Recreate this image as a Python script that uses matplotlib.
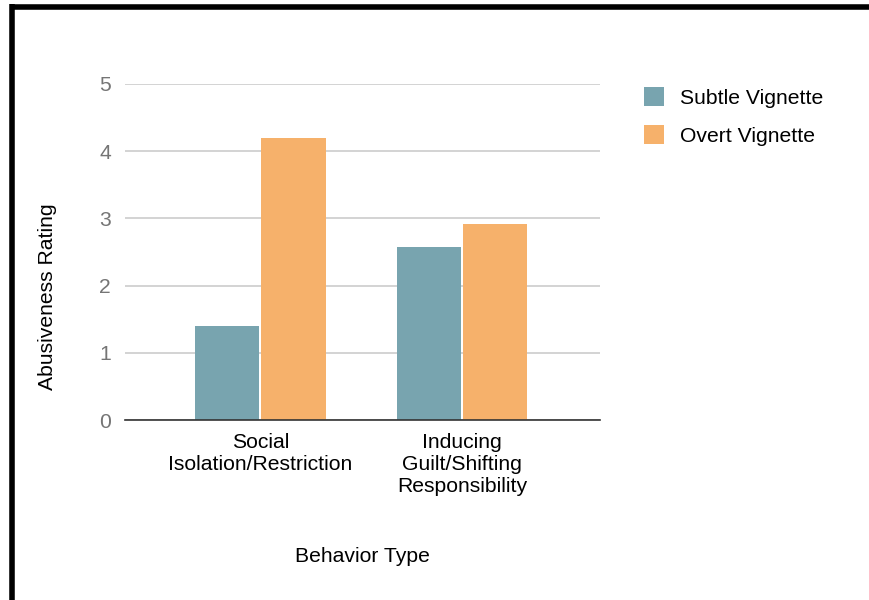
import matplotlib
matplotlib.use('Agg')

import matplotlib.pyplot as plt
import numpy as np
from matplotlib.patches import Patch
from matplotlib.lines import Line2D

plt.rcParams['font.family'] = ['Liberation Sans', 'DejaVu Sans']

# 数据
categories = ['Social\nIsolation/Restriction', 'Inducing\nGuilt/Shifting\nResponsibility']
series_names = ['Subtle Vignette', 'Overt Vignette']
subtle_vals = [1.40, 2.57]
overt_vals = [4.20, 2.92]
y_ticks = [0, 1, 2, 3, 4, 5]

subtle_color = '#78a4af'
overt_color = '#f6b16b'
fs = 15.2

fig = plt.figure(figsize=(8.7, 6), dpi=100)
ax = fig.add_axes([125 / 870, 1 - 420 / 600, 475 / 870, 336 / 600])

x = np.arange(len(categories))
w = 0.318
ax.bar(x - w / 2 - 0.005, subtle_vals, width=w, color=subtle_color, zorder=3)
ax.bar(x + w / 2 + 0.005, overt_vals, width=w, color=overt_color, zorder=3)

ax.set_xlim(-0.672, 1.685)
ax.set_ylim(0, 5)
ax.set_yticks(y_ticks)
ax.set_xticks(x)
ax.set_xticklabels(categories, fontsize=fs, color='black', linespacing=1.2)
ax.tick_params(axis='y', length=0, pad=10, labelsize=fs, labelcolor='#757575')
ax.tick_params(axis='x', length=0, pad=9.5)

# 网格和坐标轴
ax.grid(axis='y', color='#cccccc', linewidth=1.2, zorder=0)
ax.set_axisbelow(True)
for side in ['top', 'right', 'left']:
    ax.spines[side].set_visible(False)
ax.spines['bottom'].set_color('#333333')
ax.spines['bottom'].set_linewidth(1.2)
ax.spines['bottom'].set_zorder(4)

fig.text(48 / 870, 1 - 297 / 600, 'Abusiveness Rating', fontsize=fs, rotation=90,
         ha='center', va='center')
fig.text(362 / 870, 1 - 556 / 600, 'Behavior Type', fontsize=fs, ha='center', va='center')

# 图例
handles = [Patch(facecolor=subtle_color, edgecolor='none'),
           Patch(facecolor=overt_color, edgecolor='none')]
fig.legend(handles, series_names, loc='upper left', bbox_to_anchor=(625 / 870, 1 - 68 / 600),
           frameon=False, fontsize=fs, handlelength=0.95, handleheight=1.0,
           handletextpad=0.75, labelspacing=0.82)

# 外框（上边和左边）
fig.add_artist(Line2D([10 / 870, 1], [1 - 6.5 / 600, 1 - 6.5 / 600], color='black', linewidth=4,
                      solid_capstyle='butt'))
fig.add_artist(Line2D([12.5 / 870, 12.5 / 870], [0, 1 - 4 / 600], color='black', linewidth=4,
                      solid_capstyle='butt'))

plt.savefig('out.png', dpi=100)
plt.close(fig)
